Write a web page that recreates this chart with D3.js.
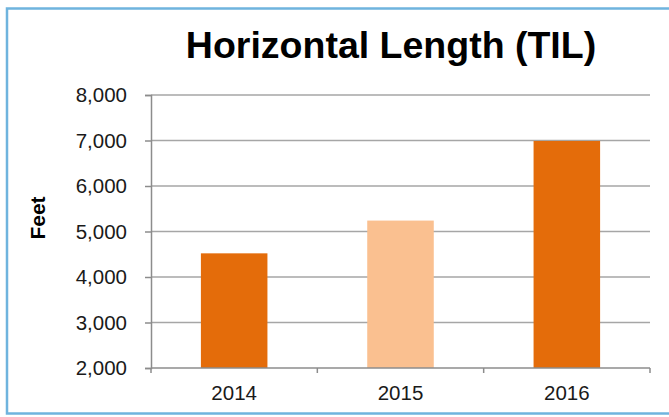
<!DOCTYPE html>
<html>
<head>
<meta charset="utf-8">
<script src="https://cdn.jsdelivr.net/npm/d3@7"></script>
<style>
  html, body { margin: 0; padding: 0; background: #ffffff; }
  svg { display: block; }
  text { font-family: "Liberation Sans", Arial, sans-serif; }
</style>
</head>
<body>
<svg id="chart" width="669" height="417"></svg>
<script>
const categories = ["2014", "2015", "2016"];
const values = [4520, 5240, 6990];
const barColors = ["#e46c0a", "#fac090", "#e46c0a"];
const yTicks = [2000, 3000, 4000, 5000, 6000, 7000, 8000];
const titleText = "Horizontal Length (TIL)";
const yLabel = "Feet";

const svg = d3.select("#chart");
const W = 669, H = 417;
const m = { left: 151, right: 19, top: 95, bottom: 49 };

// outer frame
svg.append("rect")
  .attr("x", 7).attr("y", 8.5)
  .attr("width", 670).attr("height", 405)
  .attr("fill", "#ffffff")
  .attr("stroke", "#6fb4de")
  .attr("stroke-width", 2.5);

const x = d3.scaleBand()
  .domain(categories)
  .range([m.left, W - m.right])
  .paddingInner(0.6)
  .paddingOuter(0.3);

const y = d3.scaleLinear()
  .domain([2000, 8000])
  .range([H - m.bottom, m.top]);

// gridlines
svg.append("g")
  .selectAll("line")
  .data(yTicks.slice(1))
  .join("line")
  .attr("x1", m.left).attr("x2", W - m.right)
  .attr("y1", d => y(d)).attr("y2", d => y(d))
  .attr("stroke", "#a6a6a6")
  .attr("stroke-width", 1.5);

// bars
svg.append("g")
  .selectAll("rect")
  .data(values)
  .join("rect")
  .attr("x", (d, i) => x(categories[i]))
  .attr("width", x.bandwidth())
  .attr("y", d => y(d))
  .attr("height", d => y(2000) - y(d))
  .attr("fill", (d, i) => barColors[i]);

// y axis
const yAxis = d3.axisLeft(y)
  .tickValues(yTicks)
  .tickFormat(d3.format(","))
  .tickSize(6)
  .tickPadding(18);
const gy = svg.append("g")
  .attr("transform", `translate(${m.left},0)`)
  .call(yAxis);
gy.select(".domain").attr("stroke", "#8c8c8c").attr("stroke-width", 1.5);
gy.selectAll(".tick line").attr("stroke", "#8c8c8c").attr("stroke-width", 1.5);
gy.selectAll(".tick text")
  .attr("font-size", "20.5px")
  .attr("fill", "#1a1a1a")
  .attr("font-family", "Liberation Sans, Arial, sans-serif");

// x axis: ticks at band boundaries
const step = x.step();
const boundaries = [0, 1, 2, 3].map(i => m.left + i * step);
const gx = svg.append("g").attr("transform", `translate(0,${H - m.bottom})`);
gx.append("line")
  .attr("x1", m.left).attr("x2", W - m.right)
  .attr("y1", 0).attr("y2", 0)
  .attr("stroke", "#8c8c8c").attr("stroke-width", 1.5);
gx.selectAll("line.tk")
  .data(boundaries)
  .join("line")
  .attr("class", "tk")
  .attr("x1", d => d).attr("x2", d => d)
  .attr("y1", 0).attr("y2", 5)
  .attr("stroke", "#8c8c8c").attr("stroke-width", 1.5);
gx.selectAll("text")
  .data(categories)
  .join("text")
  .attr("x", d => x(d) + x.bandwidth() / 2)
  .attr("y", 32)
  .attr("text-anchor", "middle")
  .attr("font-size", "20.5px")
  .attr("fill", "#1a1a1a")
  .text(d => d);

// title
svg.append("text")
  .attr("x", 391)
  .attr("y", 58)
  .attr("text-anchor", "middle")
  .attr("font-size", "37.5px")
  .attr("font-weight", "bold")
  .attr("fill", "#000000")
  .text(titleText);

// y label
svg.append("text")
  .attr("transform", "translate(45,218) rotate(-90)")
  .attr("text-anchor", "middle")
  .attr("font-size", "21px")
  .attr("font-weight", "bold")
  .attr("fill", "#000000")
  .text(yLabel);
</script>
</body>
</html>
